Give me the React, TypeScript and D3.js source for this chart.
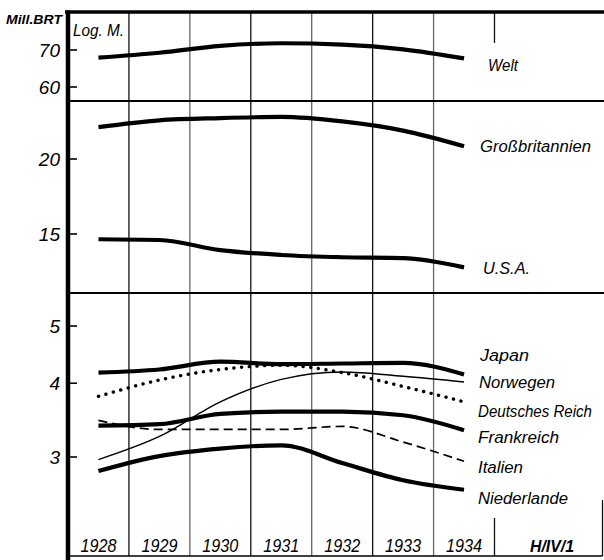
import React from 'react';
import * as d3 from 'd3';

// ---- data ----
const years = ['1928', '1929', '1930', '1931', '1932', '1933', '1934'];
const weltValues = [67.8, 69.2, 71.2, 72.0, 71.6, 70.2, 67.6];
const grossbritannienValues = [22.6, 23.2, 23.4, 23.5, 23.1, 22.3, 21.0];
const usaValues = [14.7, 14.66, 14.1, 13.84, 13.72, 13.67, 13.2];
const japanValues = [4.17, 4.22, 4.35, 4.31, 4.32, 4.33, 4.14];
const norwegenValues = [2.97, 3.25, 3.72, 4.06, 4.18, 4.11, 4.02];
const deutschesReichValues = [3.8, 4.05, 4.22, 4.29, 4.17, 3.95, 3.72];
const frankreichValues = [3.39, 3.41, 3.55, 3.58, 3.58, 3.53, 3.33];
const italienValues = [3.46, 3.34, 3.34, 3.34, 3.38, 3.18, 2.95];
const niederlandeValues = [2.84, 3.01, 3.1, 3.14, 2.93, 2.74, 2.64];

const panel1Ticks = [60, 70];
const panel2Ticks = [15, 20];
const panel3Ticks = [3, 4, 5];

const unitLabel = 'Mill.BRT';
const scaleLabel = 'Log. M.';
const tailLabel = 'H/IV/1';

// ---- layout ----
const W = 604;
const H = 560;
const left = 68;
const colEnd = 494.5;
const right = 602.5;
const top = 12;
const div1 = 101;
const div2 = 293;
const bottom = 556;
const FONT = "'Liberation Sans', Arial, sans-serif";

const x = d3.scaleBand<string>().domain(years).range([left, colEnd]);
const cx = (yr: string) => (x(yr) as number) + x.bandwidth() / 2;

const y1 = d3.scaleLog().domain([60, 70]).range([87, 50]);
const y2 = d3.scaleLog().domain([15, 20]).range([234, 159]);
const y3 = d3.scaleLog().domain([3, 5]).range([457, 326]);

type Style = 'thick' | 'thin' | 'dotted' | 'dashed';
interface Series {
  name: string;
  values: number[];
  scale: d3.ScaleLogarithmic<number, number>;
  style: Style;
  labelX: number;
  labelY: number;
  labelW: number;
}

const series: Series[] = [
  { name: 'Welt', values: weltValues, scale: y1, style: 'thick', labelX: 488, labelY: 71, labelW: 30 },
  { name: 'Großbritannien', values: grossbritannienValues, scale: y2, style: 'thick', labelX: 480, labelY: 152, labelW: 111 },
  { name: 'U.S.A.', values: usaValues, scale: y2, style: 'thick', labelX: 483, labelY: 274, labelW: 47 },
  { name: 'Japan', values: japanValues, scale: y3, style: 'thick', labelX: 480, labelY: 361, labelW: 49 },
  { name: 'Norwegen', values: norwegenValues, scale: y3, style: 'thin', labelX: 479, labelY: 388, labelW: 76 },
  { name: 'Deutsches Reich', values: deutschesReichValues, scale: y3, style: 'dotted', labelX: 478, labelY: 417, labelW: 114 },
  { name: 'Frankreich', values: frankreichValues, scale: y3, style: 'thick', labelX: 478, labelY: 443, labelW: 81 },
  { name: 'Italien', values: italienValues, scale: y3, style: 'dashed', labelX: 478, labelY: 473, labelW: 45 },
  { name: 'Niederlande', values: niederlandeValues, scale: y3, style: 'thick', labelX: 478, labelY: 504, labelW: 90 },
];

const styleAttrs = (s: Style) => {
  switch (s) {
    case 'thick':
      return { strokeWidth: 4.2 };
    case 'thin':
      return { strokeWidth: 1.4 };
    case 'dotted':
      return { strokeWidth: 3.4, strokeDasharray: '0.1 7.6', strokeLinecap: 'round' as const };
    case 'dashed':
      return { strokeWidth: 1.7, strokeDasharray: '9 5' };
  }
};

const panels = [
  { ticks: panel1Ticks, scale: y1 },
  { ticks: panel2Ticks, scale: y2 },
  { ticks: panel3Ticks, scale: y3 },
];

export default function App() {
  const boundaries = years.slice(1).map((yr) => x(yr) as number);
  return (
    <svg
      width={W}
      height={H}
      viewBox={`0 0 ${W} ${H}`}
      style={{ position: 'absolute', left: 0, top: 0, background: '#fff' }}
    >
      <rect x={0} y={0} width={W} height={H} fill="#fff" />
      {/* vertical grid lines between years */}
      {boundaries.map((bx, i) => (
        <line
          key={i}
          x1={bx}
          x2={bx}
          y1={top}
          y2={bottom}
          stroke={i % 2 === 0 ? '#111' : '#666'}
          strokeWidth={1.3}
        />
      ))}
      <line x1={colEnd} x2={colEnd} y1={top} y2={43} stroke="#111" strokeWidth={1.3} />
      <line x1={colEnd} x2={colEnd} y1={518} y2={bottom} stroke="#111" strokeWidth={1.3} />
      <line x1={right} x2={right} y1={500} y2={bottom} stroke="#111" strokeWidth={1.3} />

      {/* horizontal frame lines */}
      <line x1={65} x2={W} y1={top} y2={top} stroke="#000" strokeWidth={3.5} />
      <line x1={left} x2={W} y1={div1} y2={div1} stroke="#000" strokeWidth={2} />
      <line x1={left} x2={W} y1={div2} y2={div2} stroke="#000" strokeWidth={2} />
      <line x1={left} x2={right} y1={bottom} y2={bottom} stroke="#000" strokeWidth={1.5} />
      <line x1={left} x2={left} y1={top - 1.5} y2={H} stroke="#000" strokeWidth={4.5} />

      {/* axis ticks and labels */}
      {panels.map((p, pi) =>
        p.ticks.map((t) => (
          <g key={`${pi}-${t}`}>
            <line x1={left} x2={left + 9} y1={p.scale(t)} y2={p.scale(t)} stroke="#000" strokeWidth={1.6} />
            <text
              x={60}
              y={p.scale(t) + 7}
              textAnchor="end"
              fontFamily={FONT}
              fontStyle="italic"
              fontSize={19}
              fill="#000"
            >
              {t}
            </text>
          </g>
        ))
      )}

      <text x={6} y={24} fontFamily={FONT} fontStyle="italic" fontWeight="bold" fontSize={13} textLength={56} lengthAdjust="spacingAndGlyphs" fill="#000">
        {unitLabel}
      </text>
      <text x={73} y={36} fontFamily={FONT} fontStyle="italic" fontSize={16} textLength={51} lengthAdjust="spacingAndGlyphs" fill="#000">
        {scaleLabel}
      </text>

      {/* series lines */}
      {series.map((s) => {
        const gen = d3
          .line<number>()
          .x((_, i) => cx(years[i]))
          .y((d) => s.scale(d))
          .curve(d3.curveMonotoneX);
        return (
          <path key={s.name} d={gen(s.values) || ''} fill="none" stroke="#000" {...styleAttrs(s.style)} />
        );
      })}

      {/* series labels */}
      {series.map((s) => (
        <text
          key={`l-${s.name}`}
          x={s.labelX}
          y={s.labelY}
          fontFamily={FONT}
          fontStyle="italic"
          fontSize={16}
          textLength={s.labelW}
          lengthAdjust="spacingAndGlyphs"
          fill="#000"
        >
          {s.name}
        </text>
      ))}

      {/* year labels */}
      {years.map((yr) => (
        <text
          key={`y-${yr}`}
          x={cx(yr)}
          y={552}
          textAnchor="middle"
          fontFamily={FONT}
          fontStyle="italic"
          fontSize={18}
          textLength={36}
          lengthAdjust="spacingAndGlyphs"
          fill="#000"
        >
          {yr}
        </text>
      ))}
      <text x={552} y={552} textAnchor="middle" fontFamily={FONT} fontStyle="italic" fontWeight="bold" fontSize={17} textLength={44} lengthAdjust="spacingAndGlyphs" fill="#000">
        {tailLabel}
      </text>
    </svg>
  );
}
